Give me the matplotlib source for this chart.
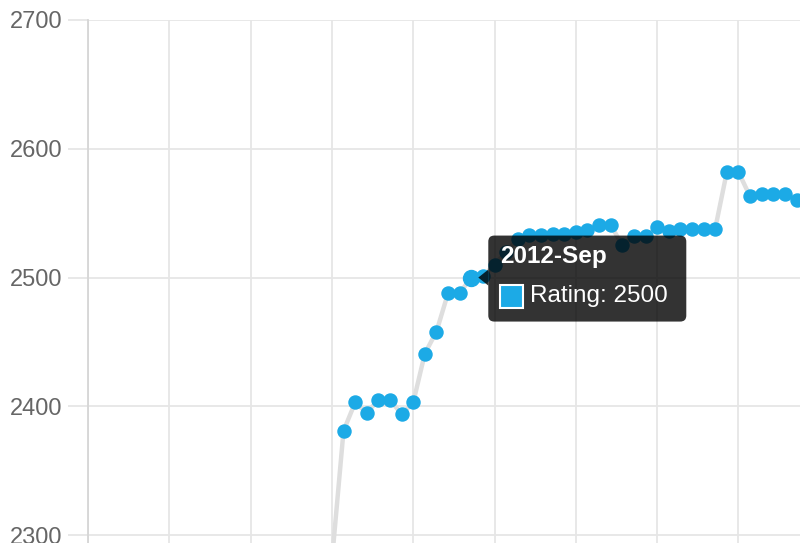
import matplotlib
matplotlib.use("Agg")
import matplotlib.pyplot as plt
import matplotlib.transforms as mtransforms
from matplotlib.patches import FancyBboxPatch, Polygon, Rectangle
import pandas as pd

# category axis: one label per month
months = list(pd.period_range("2009-12", periods=62, freq="M").strftime("%Y-%b"))

# rating series starts at 2011-Sep
first_month = "2011-Sep"
ratings = [2280, 2381, 2403, 2395, 2405, 2405, 2394, 2403, 2441, 2458,
           2488, 2488, 2500, 2501, 2510, 2520, 2530, 2533, 2533, 2534,
           2534, 2535, 2537, 2541, 2541, 2525, 2532, 2532, 2539, 2536,
           2538, 2538, 2538, 2538, 2582, 2582, 2563, 2565, 2565, 2565,
           2560]

hover_month = "2012-Sep"
y_ticks = [2300, 2400, 2500, 2600, 2700]

blue = "#1caae6"
grid_c = "#e6e6e6"

plt.rcParams["font.family"] = ["Liberation Sans", "DejaVu Sans"]

fig = plt.figure(figsize=(8, 5.43), dpi=100)
ax = fig.add_axes([0.11, 0.0, 0.89, 1 - 20 / 543])

start = months.index(first_month)
xs = list(range(start, start + len(ratings)))

ax.plot(xs, ratings, color="#dedede", lw=3.2, zorder=2, solid_capstyle="round")
ax.plot(xs, ratings, ls="none", marker="o", ms=9.4, color=blue, mec=blue, zorder=3)

hi = months.index(hover_month)
hv = ratings[hi - start]
ax.plot([hi], [hv], ls="none", marker="o", ms=11.5, color=blue, zorder=3)

ax.set_xlim(0, 61.3)
ax.set_ylim(2293.9, 2700)
ax.set_yticks(y_ticks)
ax.set_yticklabels([str(v) for v in y_ticks])
# month labels sit below the visible area in the reference crop
ax.set_xticks(range(0, len(months), 7))
ax.set_xticklabels([months[i] for i in range(0, len(months), 7)])

ax.grid(True, color=grid_c, lw=1.3)
ax.set_axisbelow(True)
for s in ["top", "right", "bottom"]:
    ax.spines[s].set_visible(False)
ax.spines["left"].set_color("#d6d6d6")
ax.spines["left"].set_linewidth(1.3)
ax.tick_params(axis="y", length=14.4, width=1.3, color=grid_c,
               labelsize=17, labelcolor="#666666", pad=4)
ax.tick_params(axis="x", length=0, labelbottom=False)

# tooltip, drawn in pixel coordinates next to the hovered point
px, py = ax.transData.transform((hi, hv))
ident = mtransforms.IdentityTransform()
box = FancyBboxPatch((px + 17 + 6, py - 44 + 6), 198 - 12, 86 - 12,
                     boxstyle="round,pad=6", transform=ident,
                     facecolor=(0, 0, 0, 0.8), edgecolor="none", zorder=10)
fig.add_artist(box)
caret = Polygon([[px + 7, py], [px + 17, py + 8], [px + 17, py - 8]],
                closed=True, transform=ident, facecolor=(0, 0, 0, 0.8),
                edgecolor="none", zorder=10)
fig.add_artist(caret)
fig.text(px + 29, py + 21, hover_month, transform=ident, color="white",
         fontsize=17.5, fontweight="bold", va="center", ha="left", zorder=11)
sq = Rectangle((px + 29, py - 30), 23, 23, transform=ident, facecolor=blue,
               edgecolor="white", lw=1.5, zorder=11)
fig.add_artist(sq)
fig.text(px + 59, py - 18, "Rating: %d" % hv, transform=ident, color="white",
         fontsize=17.5, va="center", ha="left", zorder=11)

fig.savefig("out.png", dpi=100)
